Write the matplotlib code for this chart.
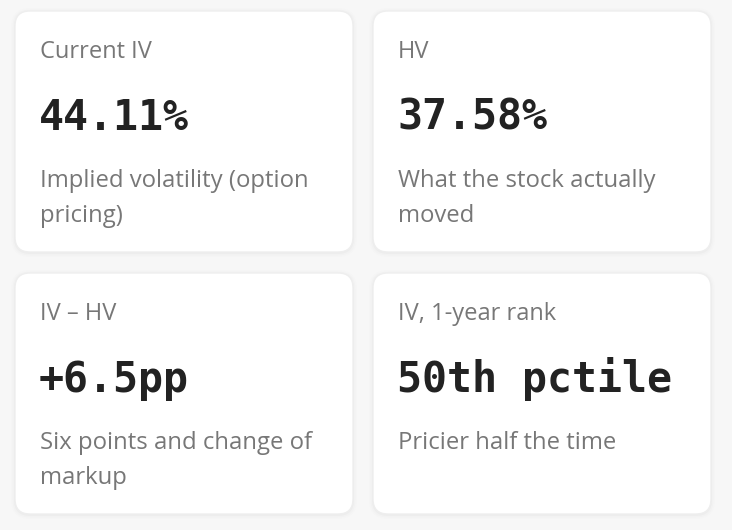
import matplotlib.pyplot as plt
from matplotlib.patches import FancyBboxPatch

labels = ['Current IV', 'HV', 'IV \u2013 HV', 'IV, 1-year rank']
values = ['44.11%', '37.58%', '+6.5pp', '50th pctile']
descriptions = [
    ['Implied volatility (option', 'pricing)'],
    ['What the stock actually', 'moved'],
    ['Six points and change of', 'markup'],
    ['Pricier half the time'],
]

W, H = 732, 530
card_x = [15, 373]
card_y = [11, 273]
card_w, card_h = 338, 241
radius = 15

fig = plt.figure(figsize=(W / 100, H / 100), dpi=100)
fig.patch.set_facecolor('#f7f7f7')
ax = fig.add_axes([0, 0, 1, 1])
ax.set_xlim(0, W)
ax.set_ylim(H, 0)
ax.axis('off')

for i, label in enumerate(labels):
    x0 = card_x[i % 2]
    y0 = card_y[i // 2]

    # soft shadow
    for k, a in [(8, 0.008), (5, 0.012), (2, 0.02)]:
        ax.add_patch(FancyBboxPatch((x0 - k / 2, y0 - k / 2 + 1), card_w + k, card_h + k,
                                    boxstyle='round,pad=0,rounding_size=%d' % (radius + k / 2),
                                    facecolor='black', edgecolor='none', alpha=a))
    ax.add_patch(FancyBboxPatch((x0, y0), card_w, card_h,
                                boxstyle='round,pad=0,rounding_size=%d' % radius,
                                facecolor='white', edgecolor='#eeeeee', linewidth=1))

    tx = x0 + 25
    ax.text(tx, y0 + 47, label, fontsize=17, family='Open Sans',
            color='#777777', va='baseline', ha='left')
    ax.text(tx - 1, y0 + 119, values[i], fontsize=30, family='DejaVu Sans Mono',
            fontweight='bold', color='#222222', va='baseline', ha='left')
    for j, line in enumerate(descriptions[i]):
        ax.text(tx, y0 + 176 + j * 35, line, fontsize=17.2, family='Open Sans',
                color='#777777', va='baseline', ha='left')

fig.savefig('out.png', dpi=100, facecolor=fig.get_facecolor())
